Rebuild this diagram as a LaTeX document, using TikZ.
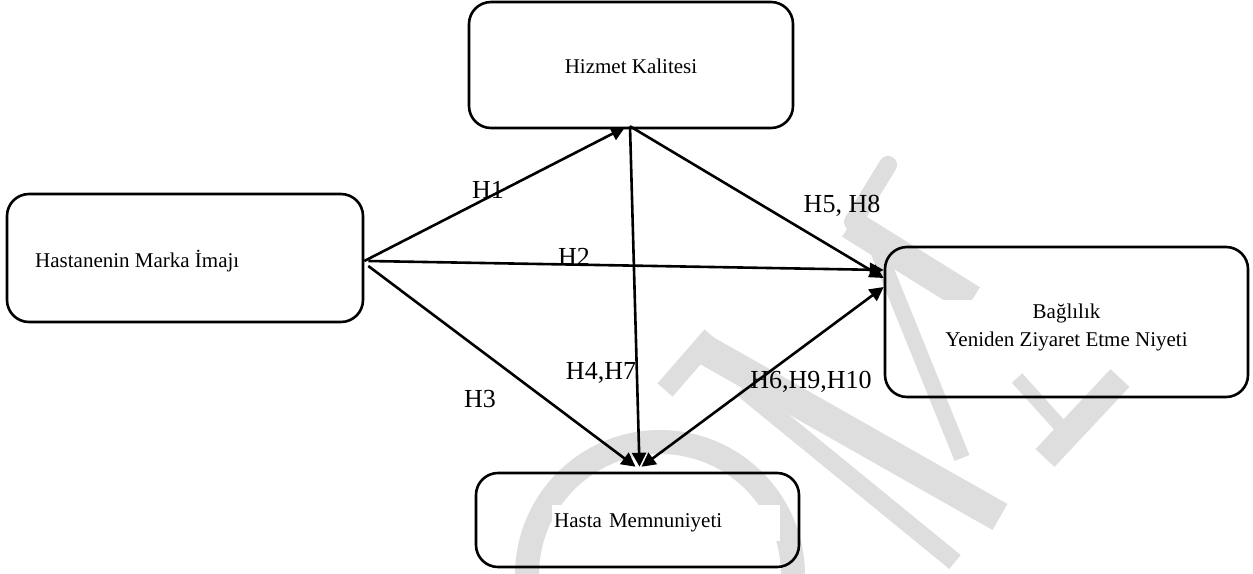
\documentclass[tikz,border=0pt]{standalone}
\usepackage{fontspec}
\setmainfont{Liberation Serif}
\usetikzlibrary{arrows.meta,calc}
\definecolor{wm}{RGB}{222,222,222}
\begin{document}
\begin{tikzpicture}[x=1pt,y=-1pt,
  roundbox/.style={draw,line width=2.6pt,rounded corners=22pt,inner sep=0pt},
  boxtext/.style={font=\fontsize{21}{28}\selectfont,inner sep=0pt},
  hyp/.style={font=\fontsize{26}{30}\selectfont,inner sep=0pt,anchor=base},
  tip/.tip={Triangle[length=14pt,width=14pt]},
  arr/.style={line width=2.6pt,-tip},
  darr/.style={line width=2.6pt,tip-tip},
]
\useasboundingbox (0,0) rectangle (1253,573);
% watermark
\begin{scope}
\clip (0,0) rectangle (1253,573);
\draw[wm,line width=24pt] (527,575) arc[start angle=180,end angle=360,radius=133];
\draw[wm,line width=20pt] (665,390) -- (712,336);
\draw[wm,line width=30pt] (702,348) -- (1000,517);
\draw[wm,line width=18pt] (742,388) -- (955,562);
\draw[wm,line width=18pt,line cap=round] (888,165) -- (853,222);
\draw[wm,line width=30pt] (850,224) -- (972,300);
\draw[wm,line width=16pt] (873,238) -- (962,458);
\draw[wm,line width=26pt] (1120,378) -- (1045,458);
\draw[wm,line width=14pt] (1017,378) -- (1062,428);
\end{scope}
% boxes
\node[roundbox,minimum width=324pt,minimum height=126pt] (K) at (631,65) {};
\node[roundbox,minimum width=356pt,minimum height=128pt] (M) at (185,258) {};
\node[roundbox,minimum width=323pt,minimum height=94pt] (S) at (637.5,520) {};
\node[roundbox,minimum width=363pt,minimum height=150pt] (B) at (1066.5,322) {};
% box texts
\node[boxtext,anchor=base] (Kt) at (631,73) {Hizmet Kalitesi};
\node[boxtext,anchor=base west] (Mt) at (35,267) {Hastanenin Marka İmajı};
\node[boxtext,fill=white,anchor=west,inner xsep=2pt,text width=224pt,align=left,minimum height=36pt] (St) at (552,523) {Hasta Memnuniyeti};
\node[boxtext,fill=white,align=center,inner xsep=6pt,inner ysep=3pt] (Bt) at (1066.5,327) {Bağlılık\\Yeniden Ziyaret Etme Niyeti};
% arrows
\draw[arr] ($(M.east)+(0,3)$) -- ($(K.south)+(-6,-2)$);
\draw[arr] ($(M.east)+(4,3)$) -- ($(B.west)+(0,-52)$);
\draw[arr] ($(M.east)+(4,8)$) -- ($(S.north)+(-2,-5)$);
\draw[arr] ($(K.south)+(-1,-3)$) -- ($(S.north)+(2,-5)$);
\draw[arr] ($(K.south)+(-1,-3)$) -- ($(B.west)+(0,-44)$);
\draw[darr] ($(S.north)+(4,-5)$) -- ($(B.west)+(0,-35)$);
% labels
\node[hyp] (h1) at (488,198) {H1};
\node[hyp] (h2) at (574,265) {H2};
\node[hyp] (h3) at (480,407) {H3};
\node[hyp] (h4) at (601,379) {H4,H7};
\node[hyp] (h5) at (842,212) {H5, H8};
\node[hyp] (h6) at (811,388) {H6,H9,H10};
\end{tikzpicture}
\end{document}
